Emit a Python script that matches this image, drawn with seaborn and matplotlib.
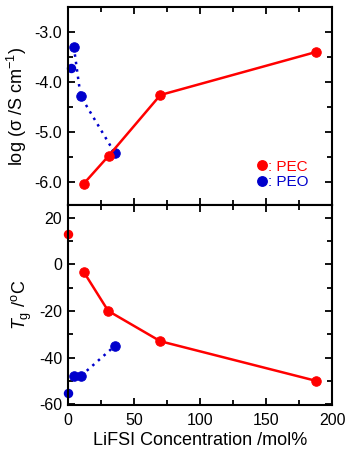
import matplotlib
matplotlib.use("Agg")
import matplotlib.pyplot as plt
import seaborn as sns
import pandas as pd
from matplotlib.ticker import MultipleLocator, FormatStrFormatter
from matplotlib.lines import Line2D

# ---- data ----
pec_cond_x = [12, 31, 70, 188]
pec_cond_y = [-6.03, -5.47, -4.26, -3.40]
peo_cond_x_single = [2]
peo_cond_y_single = [-3.72]
peo_cond_x = [4.5, 9.6, 35.5]
peo_cond_y = [-3.30, -4.28, -5.42]

pec_tg_x_single = [0]
pec_tg_y_single = [13]
pec_tg_x = [12, 30.5, 70, 188]
pec_tg_y = [-3.3, -20, -33, -50]
peo_tg_x_single = [0]
peo_tg_y_single = [-55]
peo_tg_x = [4.5, 9.6, 35.5]
peo_tg_y = [-48, -48, -35]

RED = "#FF0000"
BLUE = "#0000CC"

sns.set_style("ticks")
plt.rcParams["font.family"] = ["Liberation Sans", "DejaVu Sans"]
plt.rcParams["mathtext.fontset"] = "custom"
plt.rcParams["mathtext.rm"] = "Liberation Sans"
plt.rcParams["mathtext.it"] = "Liberation Sans:italic"
plt.rcParams["axes.unicode_minus"] = False
plt.rcParams["font.size"] = 11
for k in ["text.color", "axes.labelcolor", "xtick.color", "ytick.color",
          "axes.edgecolor"]:
    plt.rcParams[k] = "black"

fig = plt.figure(figsize=(3.5, 4.55), dpi=100)
ax1 = fig.add_axes([0.194, 0.549, 0.755, 0.436])
ax2 = fig.add_axes([0.194, 0.110, 0.755, 0.439])

ms = 6.8
lw = 1.8

def line(ax, x, y, color, ls):
    sns.lineplot(x=x, y=y, ax=ax, color=color, linestyle=ls, linewidth=lw,
                 marker="o", markersize=ms, markeredgecolor=color,
                 markerfacecolor=color, estimator=None, sort=True, clip_on=False)

def pts(ax, x, y, color):
    sns.scatterplot(x=x, y=y, ax=ax, color=color, s=ms**2, edgecolor=color,
                    linewidth=0, clip_on=False, zorder=3)

# top panel
line(ax1, peo_cond_x, peo_cond_y, BLUE, (0, (1, 2)))
pts(ax1, peo_cond_x_single, peo_cond_y_single, BLUE)
line(ax1, pec_cond_x, pec_cond_y, RED, "-")

# bottom panel
line(ax2, pec_tg_x, pec_tg_y, RED, "-")
pts(ax2, pec_tg_x_single, pec_tg_y_single, RED)
line(ax2, peo_tg_x, peo_tg_y, BLUE, (0, (1, 2)))
pts(ax2, peo_tg_x_single, peo_tg_y_single, BLUE)

for ax in (ax1, ax2):
    ax.set_xlim(0, 200)
    ax.xaxis.set_major_locator(MultipleLocator(50))
    ax.xaxis.set_minor_locator(MultipleLocator(25))
    ax.tick_params(which="both", direction="in", top=True, right=True,
                   width=1.3, labelsize=11.5, colors="black")
    ax.tick_params(axis="y", pad=4)
    ax.tick_params(axis="x", pad=6)
    ax.tick_params(which="major", length=5)
    ax.tick_params(which="minor", length=3.5)
    for s in ax.spines.values():
        s.set_linewidth(1.5)
        s.set_color("black")
        s.set_zorder(5)

ax1.set_ylim(-6.46, -2.5)
ax1.yaxis.set_major_locator(MultipleLocator(1.0))
ax1.yaxis.set_minor_locator(MultipleLocator(0.5))
ax1.yaxis.set_major_formatter(FormatStrFormatter("%.1f"))
ax1.tick_params(axis="x", labelbottom=False)
ax1.set_xlabel("")
ax1.set_ylabel("log (σ /S cm$^{-1}$)", fontsize=13, labelpad=4, color="black")

ax2.set_ylim(-60.3, 25.3)
ax2.yaxis.set_major_locator(MultipleLocator(20))
ax2.yaxis.set_minor_locator(MultipleLocator(10))
ax2.set_xlabel("LiFSI Concentration /mol%", fontsize=13, labelpad=3, color="black")
ax2.set_ylabel("$T_{\\mathrm{g}}$ /$^{\\mathrm{o}}$C", fontsize=13, labelpad=4,
               color="black")

handles = [Line2D([], [], marker="o", color=RED, linestyle="none", markersize=ms),
           Line2D([], [], marker="o", color=BLUE, linestyle="none", markersize=ms)]
leg = ax1.legend(handles, [": PEC", ": PEO"], loc="lower right",
                 bbox_to_anchor=(0.935, 0.05), frameon=False, handlelength=0.6,
                 handletextpad=0.1, labelspacing=0.1, fontsize=11,
                 labelcolor=[RED, BLUE], borderaxespad=0)

fig.savefig("out.png", dpi=100)
